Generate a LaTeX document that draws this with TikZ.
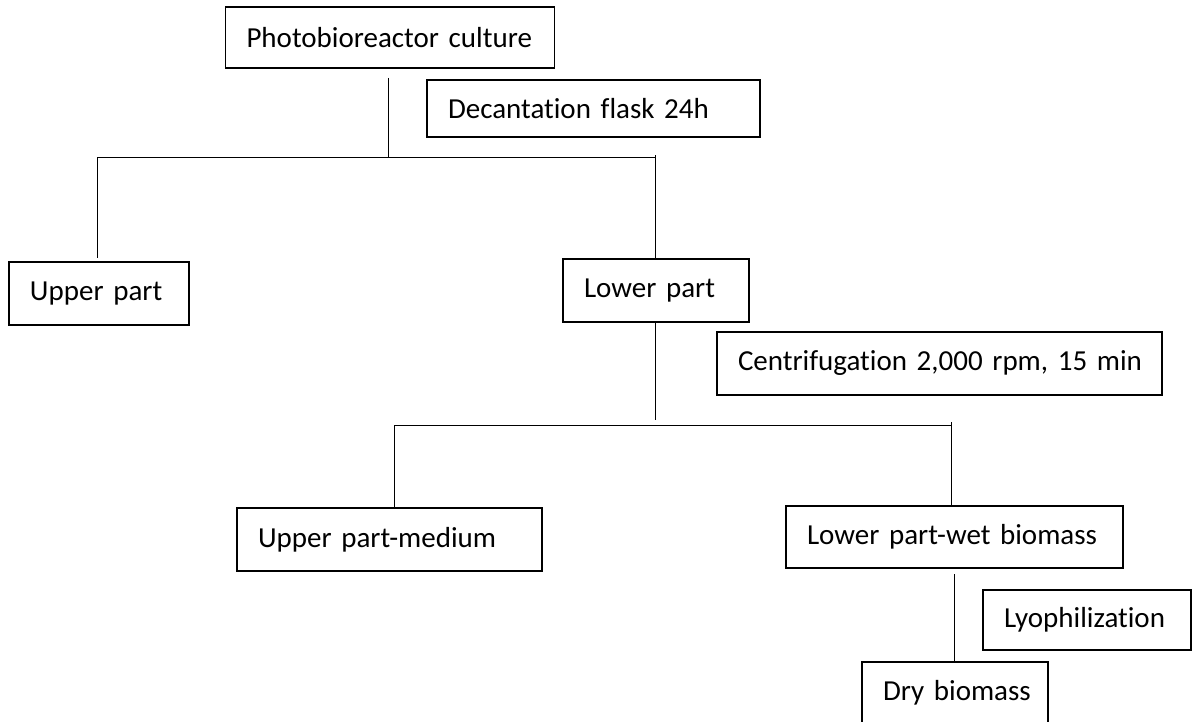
\documentclass[tikz,border=0pt]{standalone}
\usepackage{fontspec}
\setmainfont{Carlito}[Ligatures=NoCommon]
\begin{document}
\begin{tikzpicture}[x=1pt,y=-1pt,
  box/.style={draw, line width=1.1pt, inner xsep=21pt, inner ysep=0pt, align=left,
    font=\fontsize{29}{33}\selectfont},
  conn/.style={line width=1pt}]
\useasboundingbox (0,0) rectangle (1192,722);
\clip (0,0) rectangle (1192,722);
% boxes
\node[box, text width=287pt, minimum height=61pt] (photo) at (390,37.5) {\mbox{Photobioreactor culture}};
\node[box, text width=291pt, minimum height=57pt] (decant) at (593.5,108.5) {\mbox{Decantation flask 24h}};
\node[box, text width=138pt, minimum height=63pt] (upper) at (99,293.5) {\mbox{Upper part}};
\node[box, text width=144pt, minimum height=63pt] (lower) at (656,290.5) {\mbox{Lower part}};
\node[box, text width=403pt, minimum height=63pt] (centr) at (939.5,363.5) {\mbox{Centrifugation 2,000 rpm, 15 min}};
\node[box, text width=263pt, minimum height=63pt] (upm) at (389.5,539.5) {\mbox{Upper part-medium}};
\node[box, text width=295pt, minimum height=62pt] (lwb) at (954.5,537) {\mbox{Lower part-wet biomass}};
\node[box, text width=166pt, minimum height=60pt] (lyo) at (1087,620) {\mbox{Lyophilization}};
\node[box, text width=144pt, minimum height=62pt] (dry) at (955,693) {\mbox{Dry biomass}};
% junction coordinates
\coordinate (p0) at (388,78);
\coordinate (j1) at (388,158);
\coordinate (b1l) at (97,158);
\coordinate (b1r) at (655,158);
\coordinate (b1t) at (655,155);
\coordinate (u0) at (97,258);
\coordinate (l0) at (655,259);
\coordinate (l1) at (655,322);
\coordinate (j2) at (655,420);
\coordinate (b2l) at (394,425);
\coordinate (b2r) at (951,425);
\coordinate (b2t) at (951,422);
\coordinate (m0) at (394,508);
\coordinate (w0) at (951,506);
\coordinate (w1) at (954,574);
\coordinate (d0) at (954,662);
% connectors
\draw[conn] (p0) -- (j1);
\draw[conn] (b1l) -- (b1r) -- (b1t);
\draw[conn] (b1l) -- (u0);
\draw[conn] (b1r) -- (l0);
\draw[conn] (l1) -- (j2);
\draw[conn] (b2l) -- (b2r) -- (b2t);
\draw[conn] (b2l) -- (m0);
\draw[conn] (b2r) -- (w0);
\draw[conn] (w1) -- (d0);
\end{tikzpicture}
\end{document}
